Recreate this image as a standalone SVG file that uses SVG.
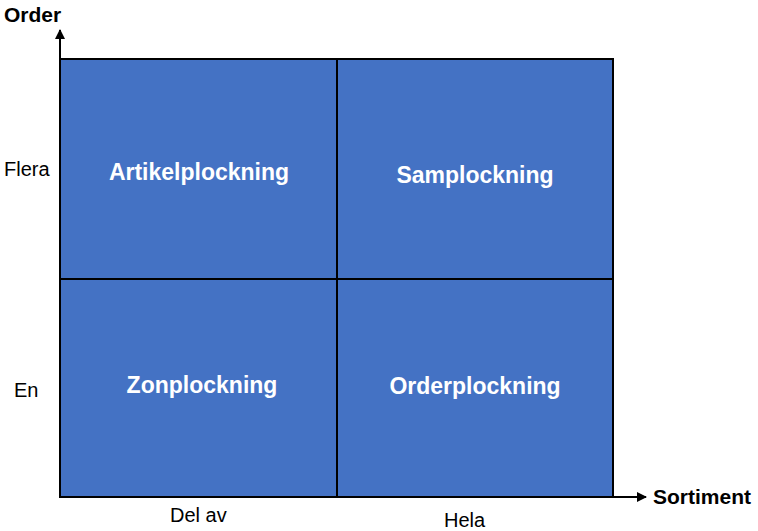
<svg xmlns="http://www.w3.org/2000/svg" width="758" height="531" viewBox="0 0 758 531">
<style>
.cell{fill:#4472C4;stroke:#000;stroke-width:2}
.lbl{font-family:"Liberation Sans",Arial,sans-serif;font-weight:bold;font-size:23px;fill:#fff;text-anchor:middle}
.ax{font-family:"Liberation Sans",Arial,sans-serif;font-size:20px;fill:#000}
.axb{font-family:"Liberation Sans",Arial,sans-serif;font-size:21px;font-weight:bold;fill:#000}
.line{stroke:#000;stroke-width:2;fill:none}
</style>
<defs>
<marker id="arr" viewBox="0 0 10 10" refX="9" refY="5" markerWidth="5" markerHeight="5" orient="auto" markerUnits="strokeWidth">
<path d="M0,0 L10,5 L0,10 z" fill="#000"/>
</marker>
</defs>
<rect width="758" height="531" fill="#fff"/>
<g id="cell-artikel"><rect class="cell" x="60" y="59" width="277" height="220"/><text class="lbl" x="199" y="180">Artikelplockning</text></g>
<g id="cell-sam"><rect class="cell" x="337" y="59" width="276" height="220"/><text class="lbl" x="475" y="183">Samplockning</text></g>
<g id="cell-zon"><rect class="cell" x="60" y="279" width="277" height="218"/><text class="lbl" x="202" y="393">Zonplockning</text></g>
<g id="cell-order"><rect class="cell" x="337" y="279" width="276" height="218"/><text class="lbl" x="475" y="394">Orderplockning</text></g>
<g id="connectors">
<line class="line" x1="60" y1="497" x2="60" y2="30" marker-end="url(#arr)"/>
<line class="line" x1="60" y1="497" x2="646" y2="497" marker-end="url(#arr)"/>
</g>
<g id="labels">
<text class="axb" x="4" y="22">Order</text>
<text class="axb" x="653" y="504">Sortiment</text>
<text class="ax" x="4" y="176">Flera</text>
<text class="ax" x="14" y="397">En</text>
<text class="ax" x="170" y="522">Del av</text>
<text class="ax" x="444" y="527">Hela</text>
</g>
</svg>
